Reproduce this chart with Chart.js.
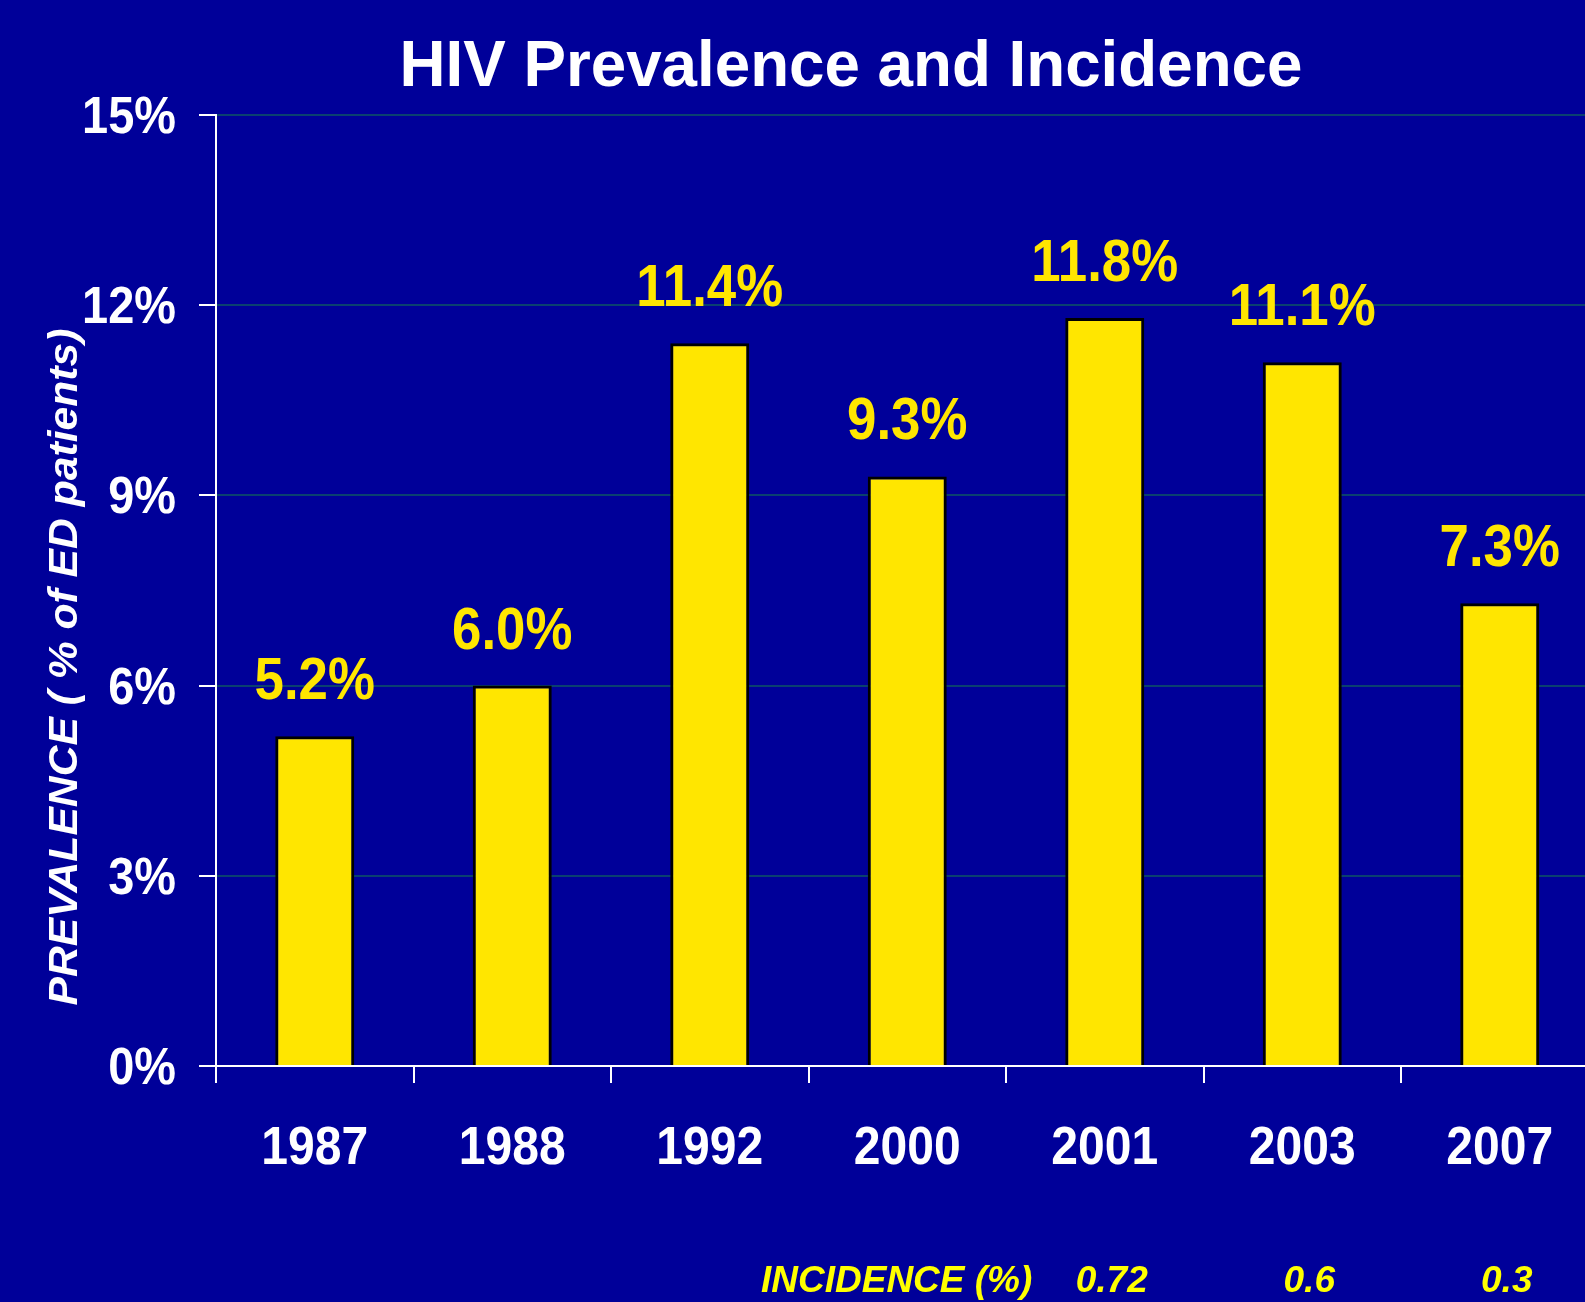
<!DOCTYPE html>
<html>
<head>
<meta charset="utf-8">
<script src="https://cdn.jsdelivr.net/npm/chart.js@4.4.0/dist/chart.umd.min.js"></script>
<style>
  html, body { margin: 0; padding: 0; background: #000099; overflow: hidden; }
  canvas { display: block; }
</style>
</head>
<body>
<canvas id="myChart" width="1600" height="1302"></canvas>
<script>
// chart data
var years = ['1987', '1988', '1992', '2000', '2001', '2003', '2007'];
var prevalence = [5.2, 6.0, 11.4, 9.3, 11.8, 11.1, 7.3];
var incidence = [null, null, null, null, '0.72', '0.6', '0.3'];
var yTicks = [0, 3, 6, 9, 12, 15];

var chartTitle = 'HIV Prevalence and Incidence';
var yTitle = 'PREVALENCE ( % of ED patients)';
var incidenceTitle = 'INCIDENCE (%)';

var fontFamily = '"Liberation Sans", Arial, sans-serif';

// draw text scaled horizontally (slide font looks stretched/condensed)
function squished(ctx, text, x, y, font, color, sx, align) {
    ctx.save();
    ctx.font = font;
    ctx.fillStyle = color;
    ctx.textAlign = align || 'center';
    ctx.textBaseline = 'alphabetic';
    ctx.translate(x, y);
    ctx.scale(sx, 1);
    ctx.fillText(text, 0, 0);
    ctx.restore();
}

var extraText = {
    id: 'extraText',
    afterDraw: function (chart) {
        var ctx = chart.ctx;
        var x = chart.scales.x;
        var y = chart.scales.y;
        var meta = chart.getDatasetMeta(0);

        // title
        squished(ctx, chartTitle, 851, 86, 'bold 65px ' + fontFamily, '#ffffff', 0.98);

        // y tick labels
        yTicks.forEach(function (v) {
            squished(ctx, v + '%', 176, y.getPixelForValue(v) + 18,
                'bold 51px ' + fontFamily, '#ffffff', 0.92, 'right');
        });

        // y axis title, placed off-centre like the slide
        ctx.save();
        ctx.translate(77, 667);
        ctx.rotate(-Math.PI / 2);
        ctx.scale(1.04, 1);
        ctx.font = 'italic bold 41px ' + fontFamily;
        ctx.fillStyle = '#ffffff';
        ctx.textAlign = 'center';
        ctx.textBaseline = 'alphabetic';
        ctx.fillText(yTitle, 0, 0);
        ctx.restore();

        // value labels over bars
        meta.data.forEach(function (bar, i) {
            squished(ctx, prevalence[i].toFixed(1) + '%', bar.x, bar.y - 37,
                'bold 60px ' + fontFamily, '#ffe600', 0.88);
        });

        // year labels
        years.forEach(function (yr, i) {
            squished(ctx, yr, x.getPixelForValue(i), 1164,
                'bold 54px ' + fontFamily, '#ffffff', 0.89);
        });

        // incidence row
        ctx.save();
        ctx.font = 'italic bold 37px ' + fontFamily;
        ctx.fillStyle = '#ffff00';
        ctx.textBaseline = 'alphabetic';
        ctx.textAlign = 'left';
        ctx.fillText(incidenceTitle, 761, 1292);
        ctx.textAlign = 'center';
        incidence.forEach(function (v, i) {
            if (v !== null) {
                ctx.fillText(v, x.getPixelForValue(i) + 7, 1292);
            }
        });
        ctx.restore();
    }
};

var ctx = document.getElementById('myChart').getContext('2d');
var myChart = new Chart(ctx, {
    type: 'bar',
    data: {
        labels: years,
        datasets: [{
            label: 'Prevalence',
            data: prevalence,
            backgroundColor: '#ffe600',
            borderColor: '#000000',
            borderWidth: 3,
            borderSkipped: 'bottom',
            barPercentage: 0.4,
            categoryPercentage: 1.0
        }]
    },
    options: {
        responsive: false,
        animation: false,
        layout: {
            padding: { top: 115, left: 0, right: 1.5, bottom: 0 }
        },
        plugins: {
            legend: { display: false },
            title: { display: false },
            tooltip: { enabled: false }
        },
        scales: {
            x: {
                offset: true,
                border: { display: true, color: '#ffffff', width: 2 },
                grid: {
                    display: true,
                    offset: true,
                    drawOnChartArea: false,
                    drawTicks: true,
                    tickLength: 17,
                    color: '#ffffff',
                    lineWidth: 2
                },
                ticks: { display: false },
                afterFit: function (scale) { scale.height = 236; }
            },
            y: {
                min: 0,
                max: 15,
                afterBuildTicks: function (scale) {
                    scale.ticks = yTicks.map(function (v) { return { value: v }; });
                },
                border: { display: true, color: '#ffffff', width: 2 },
                grid: {
                    color: '#0a4070',
                    lineWidth: 2,
                    tickColor: '#ffffff',
                    tickLength: 17
                },
                ticks: { display: false },
                afterFit: function (scale) { scale.width = 216; }
            }
        }
    },
    plugins: [extraText]
});
</script>
</body>
</html>
